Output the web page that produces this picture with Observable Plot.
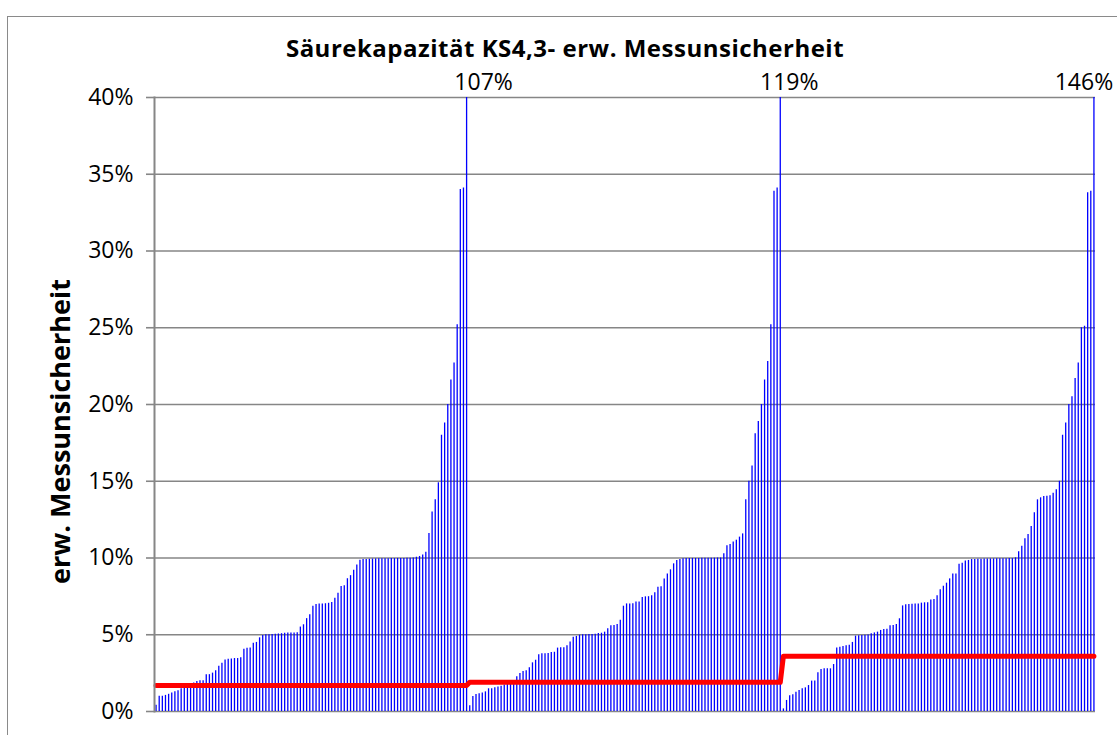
<!DOCTYPE html>
<html>
<head>
<meta charset="utf-8">
<script src="https://cdn.jsdelivr.net/npm/d3@7"></script>
<script src="https://cdn.jsdelivr.net/npm/@observablehq/plot@0.6"></script>
<style>
  body { margin: 0; background: #fff; }
  #wrap { position: relative; width: 1117px; height: 735px; overflow: hidden; background: #fff; }
  #frame { position: absolute; left: 7px; top: 16px; width: 1130px; height: 760px; border: 1px solid #8a8a8a; box-sizing: border-box; }
  #title { position: absolute; left: 0; top: 38px; width: 1130px; text-align: center;
           font-family: "Open Sans", sans-serif; font-weight: bold; font-size: 24px; line-height: 20px;
           letter-spacing: 0.5px; color: #000; }
  #chart { position: absolute; left: 0; top: 0; }
</style>
</head>
<body>
<div id="wrap">
  <div id="frame"></div>
  <div id="chart"></div>
  <div id="title">Säurekapazität KS4,3- erw. Messunsicherheit</div>
</div>
<script>
// erw. Messunsicherheit (%) per Messung, sortiert, drei Gruppen
const group1 = [
  0.4, 1.0, 1.0, 1.05, 1.12, 1.2, 1.28, 1.35, 1.48, 1.55,
  1.65, 1.75, 1.85, 1.95, 2.0, 2.0, 2.4, 2.4, 2.5, 2.65,
  2.95, 3.15, 3.35, 3.4, 3.42, 3.45, 3.45, 3.5, 4.05, 4.12,
  4.13, 4.45, 4.5, 4.8, 4.95, 5.0, 5.0, 5.02, 5.03, 5.05,
  5.07, 5.1, 5.12, 5.12, 5.12, 5.13, 5.5, 5.65, 6.05, 6.3,
  6.85, 6.97, 7.0, 7.0, 7.02, 7.05, 7.1, 7.38, 7.7, 8.15,
  8.2, 8.65, 8.85, 9.2, 9.55, 9.85, 9.9, 9.9, 9.92, 9.93,
  9.94, 9.95, 9.95, 9.95, 9.95, 9.96, 9.96, 9.97, 9.97, 9.97,
  9.98, 9.98, 10.0, 10.05, 10.1, 10.2, 10.38, 11.6, 13.0, 13.8,
  14.9, 18.0, 18.8, 20.0, 21.6, 22.7, 25.2, 34.0, 34.1, 107
];
const group2 = [
  0.37, 0.98, 1.1, 1.15, 1.2, 1.28, 1.48, 1.48, 1.55, 1.6,
  1.65, 1.72, 1.8, 1.87, 1.95, 2.26, 2.47, 2.6, 2.65, 2.85,
  3.17, 3.34, 3.69, 3.76, 3.76, 3.78, 3.84, 3.86, 4.13, 4.15,
  4.15, 4.28, 4.52, 4.84, 4.89, 4.97, 5.0, 5.0, 5.01, 5.02,
  5.03, 5.08, 5.1, 5.17, 5.39, 5.58, 5.6, 5.67, 5.95, 6.86,
  7.01, 7.01, 7.02, 7.14, 7.14, 7.43, 7.47, 7.48, 7.54, 7.73,
  8.1, 8.12, 8.64, 8.95, 9.23, 9.62, 9.84, 9.9, 9.95, 9.96,
  9.96, 9.97, 9.97, 9.97, 9.98, 9.98, 9.98, 9.99, 9.99, 10.0,
  10.0, 10.27, 10.79, 10.88, 11.05, 11.16, 11.36, 11.57, 13.79, 15.0,
  16.0, 18.1, 18.9, 20.0, 21.6, 22.8, 25.2, 33.9, 34.1, 119
];
const group3 = [
  0.17, 0.72, 1.02, 1.09, 1.26, 1.37, 1.48, 1.54, 1.69, 1.98,
  1.98, 2.52, 2.74, 2.78, 2.78, 2.78, 3.06, 4.13, 4.19, 4.23,
  4.28, 4.32, 4.5, 4.91, 4.93, 4.95, 4.97, 4.99, 5.06, 5.12,
  5.17, 5.28, 5.34, 5.36, 5.58, 5.6, 5.67, 6.04, 6.88, 6.95,
  6.97, 6.99, 7.0, 7.0, 7.06, 7.08, 7.08, 7.27, 7.3, 7.54,
  7.93, 8.16, 8.36, 8.64, 8.95, 8.95, 9.6, 9.66, 9.81, 9.84,
  9.9, 9.9, 9.92, 9.92, 9.93, 9.93, 9.94, 9.94, 9.95, 9.95,
  9.95, 9.95, 9.96, 9.96, 10.01, 10.4, 10.77, 11.25, 11.53, 12.05,
  12.94, 13.79, 13.92, 14.0, 14.03, 14.05, 14.22, 14.44, 15.0, 18.0,
  18.8, 20.0, 20.5, 21.7, 22.7, 25.0, 25.1, 33.8, 33.9, 146
];
// Grenzwert (%) je Gruppe
const limits = [1.7, 1.9, 3.6];
// y-Achse Teilstriche (%)
const yTicks = [0, 5, 10, 15, 20, 25, 30, 35, 40];

const groups = [group1, group2, group3];
const rows = groups.flatMap((g, gi) =>
  g.map((v, j) => ({i: gi * g.length + j, group: gi, v, lim: limits[gi]})));
const yMax = d3.max(yTicks);
const peaks = rows.filter(d => d.v > yMax);
const labelDx = [17, 9, -10];

const gray = "#868686";
const plot = Plot.plot({
  width: 1117,
  height: 735,
  marginLeft: 154,
  marginRight: 22,
  marginTop: 97,
  marginBottom: 24,
  style: {fontFamily: "'Open Sans', sans-serif", fontSize: "23px", color: "#000", background: "transparent"},
  x: {type: "linear", domain: [-0.5, rows.length - 0.5], axis: null},
  y: {domain: [0, yMax], axis: null},
  marks: [
    Plot.gridY(yTicks, {stroke: gray, strokeOpacity: 1, strokeWidth: 1.6}),
    Plot.axisY(yTicks, {anchor: "left", tickSize: 8, tickPadding: 13, stroke: gray, strokeWidth: 1.6,
      fill: "#000", tickFormat: d => d + "%", label: null}),
    Plot.ruleX(rows, {x: "i", y1: 0, y2: "v", stroke: "#0000ff", strokeWidth: 1.3, clip: true}),
    Plot.line(rows, {x: "i", y: "lim", stroke: "#ff0000", strokeWidth: 5, strokeLinecap: "round"}),
    Plot.frame({anchor: "left", stroke: gray, strokeWidth: 2}),
    ...peaks.map(p => Plot.text([p], {x: "i", frameAnchor: "top", text: d => d.v + "%",
      lineAnchor: "bottom", fontSize: 23, dy: -8, dx: labelDx[p.group], fill: "#000"})),
    Plot.text(["erw. Messunsicherheit"], {frameAnchor: "left", textAnchor: "middle", rotate: -90,
      dx: -93, dy: 27, fontWeight: "bold", fontSize: 27, fill: "#000", letterSpacing: "2px"})
  ]
});
document.getElementById("chart").appendChild(plot);
</script>
</body>
</html>
